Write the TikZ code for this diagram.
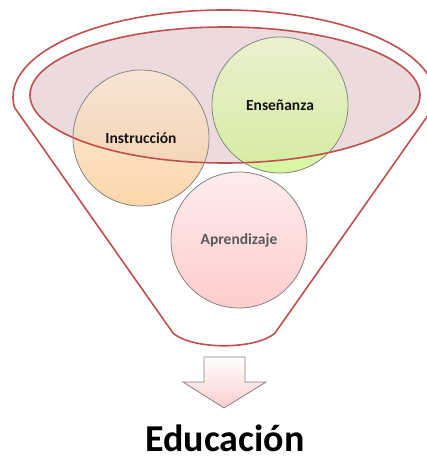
\documentclass[tikz,border=0pt]{standalone}
\usepackage{fontspec}
\setmainfont{Carlito}
\usepackage{tikz}
\usepackage{xcolor}
\usetikzlibrary{positioning,calc}
\definecolor{rojoborde}{RGB}{192,80,77}
\definecolor{grisborde}{RGB}{130,130,130}
\definecolor{fondoelipse}{RGB}{240,228,228}
\tikzset{
  burbuja/.style={circle,draw=grisborde,line width=0.8pt,minimum size=136pt,inner sep=0pt,font=\bfseries\fontsize{15.5}{18}\selectfont},
  embudo/.style={draw=rojoborde,line width=1.6pt}
}

\begin{document}
\begin{tikzpicture}[x=1pt,y=-1pt]
            \useasboundingbox (0,0) rectangle (427,460);
            \draw[embudo,line join=round] (173:211 and 87) ++(224,97) coordinate (izq)
                arc[start angle=173,end angle=367,x radius=211,y radius=87]
                -- (275,333) .. controls (256,350) and (192,350) .. (173,333) -- cycle;
            \fill[fondoelipse] (225,95) ellipse [x radius=195,y radius=68];

            \node[burbuja,top color={rgb,255:red,253;green,238;blue,220},bottom color={rgb,255:red,251;green,214;blue,170}] (instr) at (141,138) {Instrucción};
            \node[burbuja,top color={rgb,255:red,240;green,253;blue,215},bottom color={rgb,255:red,214;green,246;blue,160}] (ense) at (280,105) {Enseñanza};
            \node[burbuja,text=black!65,top color={rgb,255:red,253;green,236;blue,236},bottom color={rgb,255:red,255;green,204;blue,204}] (apre) at (239,240) {Aprendizaje};

            \draw[embudo,fill={rgb,255:red,200;green,160;blue,165},fill opacity=0.12] (225,95) ellipse [x radius=195,y radius=68];

            \draw[draw=grisborde,line width=0.8pt,top color=white,bottom color={rgb,255:red,250;green,205;blue,205}]
                (204,357) -- (245,357) -- (245,382) -- (266,382) -- (224,408) -- (183,382) -- (204,382) -- cycle;
            \node[font=\bfseries\fontsize{38}{42}\selectfont,anchor=base,inner sep=0pt] (educ) at (225,451) {Educación};
\end{tikzpicture}
\end{document}
